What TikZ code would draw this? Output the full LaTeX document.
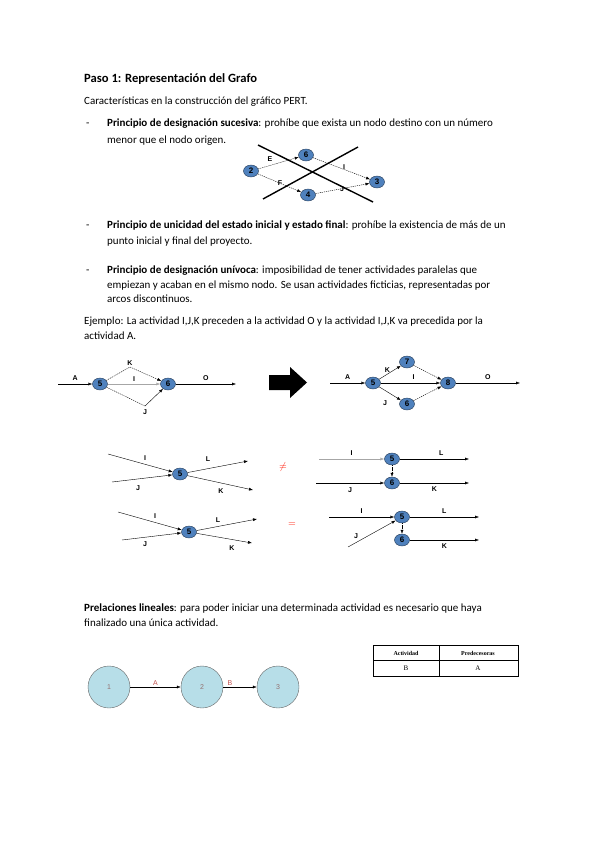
\documentclass[tikz,border=0pt]{standalone}
\usepackage{fontspec}
\setmainfont{Carlito}
\newfontfamily\arialf{Liberation Sans}
\newfontfamily\timesf{Liberation Serif}
\usepackage{xcolor}
\usetikzlibrary{shapes.geometric, arrows.meta, positioning}

\definecolor{pertblue}{HTML}{4F81BD}
\definecolor{stagecyan}{HTML}{B7DEE8}
\definecolor{lblred}{HTML}{C0504D}

\begin{document}
\begin{tikzpicture}[
  x=1pt, y=-1pt,
  txt/.style={anchor=base west, inner sep=0pt, font=\fontsize{11}{13}\selectfont},
  evt/.style={ellipse, draw=pertblue!45!black, fill=pertblue, minimum width=15pt, minimum height=12pt, inner sep=0pt, font=\arialf\bfseries\fontsize{8}{8}\selectfont},
  lbl/.style={inner sep=0pt, font=\arialf\bfseries\fontsize{7}{7}\selectfont},
  stage/.style={circle, draw=gray!80!black, fill=stagecyan, minimum size=42pt, inner sep=0pt, font=\arialf\fontsize{7}{7}\selectfont, text=gray!70!lblred},
  arr/.style={-{Latex[length=4pt, width=3pt]}, thin},
  darr/.style={arr, dash pattern=on 1.2pt off 0.9pt},
  crossline/.style={line width=1.4pt},
]
  \useasboundingbox (0,0) rectangle (599,848);

  % Text
  \node[txt, font=\bfseries\fontsize{12.6}{14}\selectfont] (title) at (84,83) {Paso 1: Representación del Grafo};
  \node[txt] (intro) at (84,105) {Características en la construcción del gráfico PERT.};
  \node[txt] (dashA) at (86,126) {-};
  \node[txt] (pA1) at (107,126) {\textbf{Principio de designación sucesiva}: prohíbe que exista un nodo destino con un número};
  \node[txt] (pA2) at (107,143) {menor que el nodo origen.};
  \node[txt] (dashB) at (86,228) {-};
  \node[txt] (pB1) at (107,228) {\textbf{Principio de unicidad del estado inicial y estado final}: prohíbe la existencia de más de un};
  \node[txt] (pB2) at (107,244) {punto inicial y final del proyecto.};
  \node[txt] (dashC) at (86,273) {-};
  \node[txt] (pC1) at (107,273) {\textbf{Principio de designación unívoca}: imposibilidad de tener actividades paralelas que};
  \node[txt] (pC2) at (107,288) {empiezan y acaban en el mismo nodo. Se usan actividades ficticias, representadas por};
  \node[txt] (pC3) at (107,302) {arcos discontinuos.};
  \node[txt] (ej1) at (84,324) {Ejemplo: La actividad I,J,K preceden a la actividad O y la actividad I,J,K va precedida por la};
  \node[txt] (ej2) at (84,339) {actividad A.};
  \node[txt] (pl1) at (84,611) {\textbf{Prelaciones lineales}: para poder iniciar una determinada actividad es necesario que haya};
  \node[txt] (pl2) at (84,626) {finalizado una única actividad.};

  % Designacion sucesiva
  \node[evt] (sTwo) at (251,171) {2};
  \node[evt] (sSix) at (306,155) {6};
  \node[evt] (sFour) at (308,195) {4};
  \node[evt] (sThree) at (377,182) {3};
  \draw[darr] (sTwo) -- (sSix);
  \draw[darr] (sTwo) -- (sFour);
  \draw[darr] (sSix) -- (sThree);
  \draw[darr] (sFour) -- (sThree);
  \node[lbl] at (270,159) {E};
  \node[lbl] at (280,183) {F};
  \node[lbl] at (344,167) {I};
  \node[lbl] at (342,189) {J};
  \draw[crossline] (258,145) -- (373,202);
  \draw[crossline] (358,147) -- (263,199);

  % Ejemplo: antes
  \coordinate (aIn) at (58,384);
  \node[evt] (aFive) at (100,384) {5};
  \node[evt] (aSix) at (168,384) {6};
  \coordinate (aK) at (130,367);
  \coordinate (aJ) at (145,406);
  \coordinate (aOut) at (236,384);
  \draw[arr] (aIn) -- node[lbl, above=3pt] {A} (aFive);
  \draw[darr] (aFive) -- (aK) -- (aSix);
  \draw[arr, gray!70] (aFive) -- node[lbl, black, above=2pt] {I} (aSix);
  \draw[dash pattern=on 1.2pt off 0.9pt] (aFive) -- (aJ);
  \draw[arr] (aJ) -- (aSix);
  \draw[arr] (aSix) -- node[lbl, above=3pt] {O} (aOut);
  \node[lbl, above=1pt of aK] {K};
  \node[lbl, below=3pt of aJ] {J};

  % Flecha
  \fill (269,375) -- (290,375) -- (290,367) -- (307,382.5) -- (290,398) -- (290,390) -- (269,390) -- cycle;

  % Ejemplo: despues
  \coordinate (bIn) at (330,383);
  \node[evt] (bFive) at (373,383) {5};
  \node[evt] (bSeven) at (407,362) {7};
  \node[evt] (bSix) at (407,404) {6};
  \node[evt] (bEight) at (448,383) {8};
  \coordinate (bOut) at (520,383);
  \draw[arr] (bIn) -- node[lbl, above=3pt] {A} (bFive);
  \draw[arr] (bFive) -- node[lbl, above left=0pt] {K} (bSeven);
  \draw[arr] (bFive) -- node[lbl, above=3pt, pos=0.55] {I} (bEight);
  \draw[arr] (bFive) -- (bSix);
  \draw[darr] (bSeven) -- (bEight);
  \draw[darr] (bSix) -- (bEight);
  \draw[arr] (bEight) -- node[lbl, above=3pt] {O} (bOut);
  \node[lbl] at (385,403) {J};

  % Nodo 5 con cuatro actividades
  \coordinate (cI) at (108,454);
  \coordinate (cJ) at (112,482);
  \node[evt] (cFive) at (180,474) {5};
  \coordinate (cL) at (248,461);
  \coordinate (cK) at (253,490);
  \draw[arr] (cI) -- (cFive);
  \draw[arr] (cJ) -- (cFive);
  \draw[arr] (cFive) -- (cL);
  \draw[arr] (cFive) -- (cK);
  \node[lbl] at (145,458) {I};
  \node[lbl] at (138,488) {J};
  \node[lbl] at (208,459) {L};
  \node[lbl] at (221,491) {K};

  \node[text=red!85!orange, font=\bfseries] (neq) at (283,467) {$\neq$};

  \coordinate (dI) at (319,459);
  \coordinate (dJ) at (316,483);
  \node[evt] (dFive) at (392,459) {5};
  \node[evt] (dSix) at (392,483) {6};
  \coordinate (dL) at (469,459);
  \coordinate (dK) at (469,483);
  \draw[arr, gray!70] (dI) -- node[lbl, black, above=3pt] {I} (dFive);
  \draw[arr] (dJ) -- node[lbl, below=4pt] {J} (dSix);
  \draw[arr] (dFive) -- node[lbl, above=3pt, pos=0.6] {L} (dL);
  \draw[arr] (dSix) -- node[lbl, below=3pt, pos=0.5] {K} (dK);
  \draw[darr] (dFive) -- (dSix);

  \coordinate (eI) at (118,512);
  \coordinate (eJ) at (122,540);
  \node[evt] (eFive) at (189,532) {5};
  \coordinate (eL) at (257,519);
  \coordinate (eK) at (252,543);
  \draw[arr] (eI) -- (eFive);
  \draw[arr] (eJ) -- (eFive);
  \draw[arr] (eFive) -- (eL);
  \draw[arr] (eFive) -- (eK);
  \node[lbl] at (155,516) {I};
  \node[lbl] at (145,544) {J};
  \node[lbl] at (218,520) {L};
  \node[lbl] at (232,548) {K};

  \node[text=red!85!orange, font=\bfseries] (eq) at (292,525) {$=$};

  \coordinate (fI) at (329,517);
  \coordinate (fJ) at (348,547);
  \node[evt] (fFive) at (402,517) {5};
  \node[evt] (fSix) at (402,540) {6};
  \coordinate (fL) at (479,517);
  \coordinate (fK) at (479,540);
  \draw[arr] (fI) -- node[lbl, above=3pt] {I} (fFive);
  \draw[arr] (fJ) -- (fFive);
  \draw[arr] (fFive) -- node[lbl, above=3pt] {L} (fL);
  \draw[arr] (fSix) -- node[lbl, below=3pt] {K} (fK);
  \draw[darr] (fFive) -- (fSix);
  \node[lbl] at (356,536) {J};

  % Prelaciones lineales
  \node[stage] (one) at (109,687) {1};
  \node[stage] (two) at (202,687) {2};
  \node[stage] (three) at (278,687) {3};
  \draw[arr] (one) -- node[above=1pt, inner sep=0pt, text=lblred, font=\arialf\fontsize{7}{7}\selectfont] {A} (two);
  \draw[arr] (two) -- node[above=1pt, inner sep=0pt, pos=0.2, text=lblred, font=\arialf\fontsize{7}{7}\selectfont] {B} (three);

  % Tabla
  \draw[thin] (373,645) rectangle (518,676);
  \draw[thin] (373,660) -- (518,660);
  \draw[thin] (439,645) -- (439,676);
  \node[font=\timesf\bfseries\fontsize{6}{6}\selectfont] (hAct) at (406,653) {Actividad};
  \node[font=\timesf\bfseries\fontsize{6}{6}\selectfont] (hPre) at (478,653) {Predecesoras};
  \node[font=\timesf\fontsize{7}{7}\selectfont] (cAct) at (406,668) {B};
  \node[font=\timesf\fontsize{7}{7}\selectfont] (cPre) at (478,668) {A};
\end{tikzpicture}
\end{document}
